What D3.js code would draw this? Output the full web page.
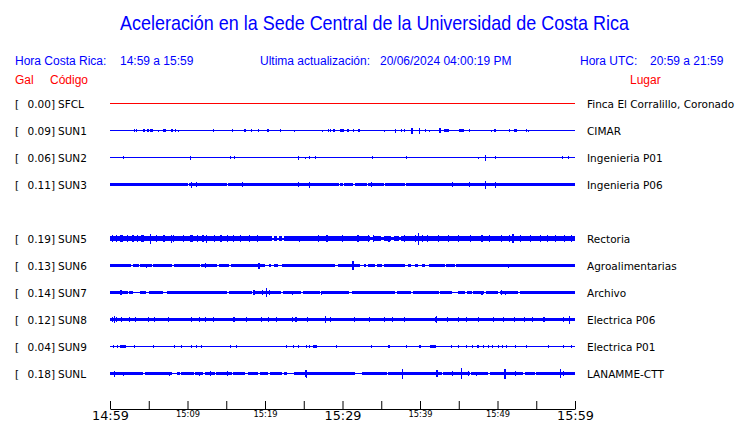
<!DOCTYPE html>
<html><head><meta charset="utf-8">
<script src="https://cdn.jsdelivr.net/npm/d3@7"></script>
<style>body{margin:0;background:#fff} svg{display:block}</style>
</head><body><svg id="c" width="740" height="423"></svg>
<script>
// ---------- data ----------
const codes = ["SFCL","SUN1","SUN2","SUN3","SUN5","SUN6","SUN7","SUN8","SUN9","SUNL"];
const galValues = [0.00,0.09,0.06,0.11,0.19,0.13,0.14,0.12,0.04,0.18];
const places = ["Finca El Corralillo, Coronado","CIMAR","Ingenieria P01","Ingenieria P06","Rectoria","Agroalimentarias","Archivo","Electrica P06","Electrica P01","LANAMME-CTT"];
const rowSlots = [0,1,2,3,5,6,7,8,9,10];           // SUN4 slot is empty
const traceColors = ["red","blue","blue","blue","blue","blue","blue","blue","blue","blue"];
// baseline half-amplitude of each trace (counts)
const baseAmp = [0.5,0.5,0.5,1.7,2.3,1.3,1.5,1.8,0.5,1.7];
// quiet stretches: [minute, duration, amplitude]
const quietSFCL = [];
const quietSUN1 = [];
const quietSUN2 = [];
const quietSUN3 = [[10.0,0.2],[15.1,0.15],[29.5,0.15],[30.1,0.15],[31.4,0.15],[33.1,0.15],[35.3,0.15],[38.0,0.15]];
const quietSUN5 = [[20.9,0.3,1],[21.5,0.3,1],[22.2,0.2,1],[33.6,0.3,1.3],[35.0,0.3,1.3],[36.2,0.4,1.3],[37.3,0.3,1.3]];
const quietSUN6 = [[2.7,0.3],[3.7,0.2],[5.4,0.2],[8.0,0.2],[11.6,0.2],[13.8,0.2],[15.3,0.3],[20.0,0.5],[20.8,0.4],[21.7,0.5],[29.0,0.4],[32.3,0.5],[33.0,0.3],[34.2,0.2],[35.1,0.2],[38.1,0.4],[38.9,0.4],[39.8,0.5],[40.7,0.5],[43.2,0.2],[44.5,0.2]];
const quietSUN7 = [[2.3,0.2],[3.0,0.9],[4.6,0.4],[6.8,0.6],[15.1,0.2],[18.3,0.3],[22.1,0.2],[24.7,0.2],[27.1,0.2],[30.8,0.4],[36.8,0.2],[38.9,0.2],[42.4,0.2],[44.1,0.8],[45.8,0.2],[46.7,0.2],[48.3,0.2],[50.1,0.2],[52.7,0.2]];
const quietSUN8 = [[3.9,0.4,1.1],[4.5,0.3,1.1],[8.0,0.5,1.1],[9.5,0.5,1.1],[14.2,0.4,1.1],[14.8,0.3,1.1],[18.3,0.5,1.1],[19.1,0.4,1.1],[24.7,0.4,1.1],[29.2,0.5,1.1],[30.0,0.4,1.1],[32.0,0.4,1.1],[38.5,0.6,1.1],[39.5,0.6,1.1]];
const quietSUN9 = [];
const quietSUNL = [[4.3,0.2,0.8],[8.0,0.6,0.8],[9.0,0.2,0.8],[10.8,0.2,0.8],[12.0,0.2,0.8],[13.5,0.2,0.8],[15.7,0.2,0.8],[17.4,0.4,0.8],[19.1,0.2,0.8],[20.4,0.2,0.8],[22.2,0.2,0.8],[22.8,0.9,0.8],[31.6,0.9,0.8],[35.7,0.2,0.8],[42.8,0.2,0.8],[46.4,0.2,0.8],[48.8,0.2,0.8],[53.3,0.2,0.8],[54.8,0.2,0.8]];
// bursts: [minute, half-amplitude, duration]
const burstSFCL = [];
const burstSUN1 = [[3.2,1.3],[3.4,1.3],[4.4,1.7,0.25],[4.9,1.7,0.2],[5.3,1.3,0.4],[6.2,1],[7.0,1.7,0.4],[8.0,1.7],[8.4,1.3],[8.8,1],[13.3,1.3],[15.8,1.3],[17.4,1.7,0.3],[18.2,1.7],[19.2,1.7],[20.4,1.7,0.35],[22.0,1.3],[23.8,1],[27.4,1],[28.2,1.3],[28.4,1.3],[28.9,1.7,0.3],[29.9,1.7,0.5],[30.7,1.7,0.3],[31.4,1.3],[32.1,1.7,0.2],[35.4,1],[36.9,2],[37.6,1.3],[38.0,1.7],[39.0,3,0.2],[39.9,3],[40.7,1.3],[41.2,1],[42.6,2.3,0.2],[43.4,1.7,0.6],[45.1,1.3,0.2],[45.4,1.7,0.5],[46.4,1.3],[49.2,1],[49.7,1.3,0.25],[51.6,1.3],[52.3,1.7,0.45],[53.8,1.3],[54.0,1]];
const burstSUN2 = [[1.8,1.5],[10.4,2,0.2],[15.5,1.5],[16.1,1.3],[24.3,2,0.2],[25.2,1],[25.8,1.3],[26.5,1.3],[33.9,1.3],[38.3,1.5],[47.5,1],[48.5,3,0.15],[49.7,1.5],[58.4,1.3],[59.1,1.5]];
const burstSUN3 = [[10.5,3],[11.2,2.3],[17.1,2.5],[24.3,2.5],[25.8,3],[33.8,2.5],[44.2,2.3],[46.4,2.3],[48.5,4],[49.7,3]];
const burstSUN5 = [[0.3,3.3],[0.9,3.3],[1.5,3.3,0.3],[2.2,3.3],[3.0,3.3,0.3],[3.6,3.3],[4.2,3.3,0.3],[5.2,5,0.2],[6.0,3.3],[7.0,3.3,0.3],[7.9,4],[8.2,3.3],[9.5,3.3],[10.5,3.3,0.3],[11.3,3.3],[12.0,3.3],[12.5,4],[13.5,3.3],[14.3,3.3,0.3],[15.2,3.3],[15.9,3.3],[16.8,3.8],[18.0,3.3],[19.0,3.3],[24.5,3],[26.9,3.3],[28.0,3.3],[30.0,3.3],[32.0,3.3],[33.3,3.8],[34.0,3.3],[36.0,3],[38.0,3.3],[39.4,3.8],[39.8,6,0.2],[40.3,3.8],[41.0,3.3],[42.4,3.3],[43.7,3.8],[45.0,3.3],[46.5,3.3],[48.0,3.3],[49.0,3.3],[50.5,3.3],[51.5,3.3],[52.0,4.5],[53.0,3.3],[54.2,3.3],[55.5,3.3],[56.5,3.3],[57.5,3.3],[58.7,3.8],[59.5,3.3]];
const burstSUN6 = [[1.0,1.7],[4.7,2],[6.5,1.7],[10.0,1.7],[12.3,2.2],[17.0,1.7],[19.2,3,0.3],[26.0,1.7],[31.3,4.3,0.25],[47.0,1.7],[51.4,2],[53.0,1.7],[56.0,1.7],[59.4,1.8]];
const burstSUN7 = [[1.4,2.3,0.3],[18.6,2.5,0.3],[19.7,2.3],[20.2,4.7,0.2],[20.6,2.5],[23.5,2],[27.3,2],[48.0,2],[50.5,2.3],[51.0,2]];
const burstSUN8 = [[0.3,2.8],[0.6,3.3],[0.8,2.8],[1.5,2.8],[2.5,2.8],[3.3,2.8],[5.0,2.8],[5.8,2.8],[7.5,2.8],[10.5,2.8],[11.5,2.8],[12.3,2.8],[13.3,2.8],[16.0,2.8],[17.6,2.8],[19.5,2.8],[20.5,2.8],[21.5,2.8],[23.5,2.8],[24.0,2.8],[25.5,2.8],[27.8,3.3],[28.5,2.8],[31.5,2.8],[33.5,2.8],[35.4,2.8],[36.5,2.8],[38.0,2.8],[42.0,2.8],[42.1,3.7],[43.5,2.8],[45.0,2.8],[46.0,2.8],[47.5,2.8],[49.5,2.8],[50.8,2.8],[52.2,2.8],[53.5,2.8],[54.5,2.8],[56.0,2.8],[58.5,2.8],[59.3,4]];
const burstSUN9 = [[0.4,1.3],[1.0,1.3],[1.7,1.3,0.7],[3.2,1.3],[5.6,1.3],[8.3,1.3],[9.2,1.3],[10.5,1.3],[11.2,1.3],[11.8,1.3],[15.5,1.3],[16.3,1.3],[22.8,1.3],[23.7,1.3],[24.3,1.3],[25.4,1.3],[25.8,1.3],[26.4,1.3,0.5],[29.2,1.3],[33.8,1.3],[36.0,1.3],[38.3,1.3],[40.0,1.3],[41.7,1.3,0.7],[44.1,1.3],[45.0,1.3],[46.0,1.3],[46.8,1.3],[47.5,1.3,0.3],[48.2,1.3],[48.8,1.3],[49.4,1.3],[50.1,1.3],[50.6,1.3],[51.2,1.3],[52.3,1.3],[53.8,1.3],[56.6,1.3],[58.5,1.3],[59.5,1.3]];
const burstSUNL = [[0.6,3],[1.7,2],[7.7,2],[11.6,2],[13.0,2.5],[15.2,2.5],[25.2,3.8],[25.4,4],[37.8,5],[42.2,3.5,0.2],[44.2,2.2],[45.3,5.5],[46.2,2.2],[47.3,2],[51.0,5,0.2],[52.3,2.5],[58.1,4.5],[58.5,2.5]];
const quietSets = [quietSFCL,quietSUN1,quietSUN2,quietSUN3,quietSUN5,quietSUN6,quietSUN7,quietSUN8,quietSUN9,quietSUNL];
const burstSets = [burstSFCL,burstSUN1,burstSUN2,burstSUN3,burstSUN5,burstSUN6,burstSUN7,burstSUN8,burstSUN9,burstSUNL];
const tickMinutes = [0,5,10,15,20,25,30,35,40,45,50,55,60];
const tickLabels = ["14:59","","15:09","","15:19","","15:29","","15:39","","15:49","","15:59"];
const majorTicks = ["14:59","15:29","15:59"];

// ---------- drawing ----------
const svg = d3.select("#c");
const x = d3.scaleLinear().domain([0,60]).range([110,575]);
const y = d3.scaleLinear().domain([0,10]).range([103,373]);
const amp = d3.scaleLinear().domain([0,10]).range([0,10]);
const BLUE = "#0000ff", RED = "#ff0000";
const sans = "'Liberation Sans', Arial, sans-serif";
const dv = "'DejaVu Sans', sans-serif";

svg.append("text").attr("x",120).attr("y",30).attr("textLength",509).attr("lengthAdjust","spacingAndGlyphs")
  .attr("font-family",sans).attr("font-size",21).attr("fill",BLUE)
  .text("Aceleración en la Sede Central de la Universidad de Costa Rica");

const hdr = (tx,ty,s,col,anchor)=>svg.append("text").attr("x",tx).attr("y",ty).attr("font-family",sans)
  .attr("font-size",12).attr("fill",col).attr("text-anchor",anchor||"start").text(s);
hdr(15,65,"Hora Costa Rica:",BLUE);
hdr(120,65,"14:59 a 15:59",BLUE);
hdr(260,65,"Ultima actualización:",BLUE);
hdr(380,65,"20/06/2024 04:00:19 PM",BLUE);
hdr(580,65,"Hora UTC:",BLUE);
hdr(650,65,"20:59 a 21:59",BLUE);
hdr(15,84,"Gal",RED);
hdr(50,84,"Código",RED);
hdr(630,84,"Lugar",RED);

function segments(base, quiet){
  const q = quiet.slice().sort((a,b)=>a[0]-b[0]);
  const out = []; let t = 0;
  q.forEach(g=>{
    if (g[0] > t) out.push([t, g[0], base]);
    out.push([g[0], g[0]+g[1], g.length>2 ? g[2] : 0.5]);
    t = g[0]+g[1];
  });
  if (t < 60) out.push([t, 60, base]);
  return out;
}

codes.forEach((code,i)=>{
  const cy = y(rowSlots[i]);
  const g = svg.append("g").attr("shape-rendering","crispEdges");
  const col = traceColors[i] === "red" ? RED : BLUE;
  const segs = segments(baseAmp[i], quietSets[i]);
  g.selectAll("rect.s").data(segs).join("rect").attr("class","s")
    .attr("x",d=>x(d[0])).attr("width",d=>x(d[1])-x(d[0]))
    .attr("y",d=>cy+0.5-Math.max(0.5,amp(d[2]))).attr("height",d=>Math.max(1,2*amp(d[2])))
    .attr("fill",col);
  g.selectAll("rect.b").data(burstSets[i]).join("rect").attr("class","b")
    .attr("x",d=>x(d[0]-(d[2]||0.13)/2)).attr("width",d=>Math.max(1,x(d[2]||0.13)-x(0)))
    .attr("y",d=>cy+0.5-amp(d[1])).attr("height",d=>2*amp(d[1]))
    .attr("fill",col);
  // labels
  const lab = (tx,s,anchor,ff)=>svg.append("text").attr("x",tx).attr("y",cy+4.5)
    .attr("font-family",ff).attr("font-size",10.5).attr("fill","#000").attr("text-anchor",anchor).text(s);
  lab(15,"[","start",dv);
  lab(55,galValues[i].toFixed(2)+"]","end",dv);
  lab(58,code,"start",dv);
  lab(587,places[i],"start",dv);
});

const axis = d3.axisBottom(x).tickValues(tickMinutes).tickSizeInner(-8).tickSizeOuter(0)
  .tickFormat((d,i)=>tickLabels[i]);
const ag = svg.append("g").attr("transform","translate(0,409)").call(axis);
ag.select(".domain").attr("stroke","#000");
ag.selectAll(".tick line").attr("stroke","#000");
ag.selectAll(".tick text").attr("fill","#000").attr("font-family",dv).attr("dy",0)
  .attr("font-size",function(){return majorTicks.includes(this.textContent)?12.8:8.3;})
  .attr("y",function(){return majorTicks.includes(this.textContent)?11:7.7;});
</script>
</body></html>
